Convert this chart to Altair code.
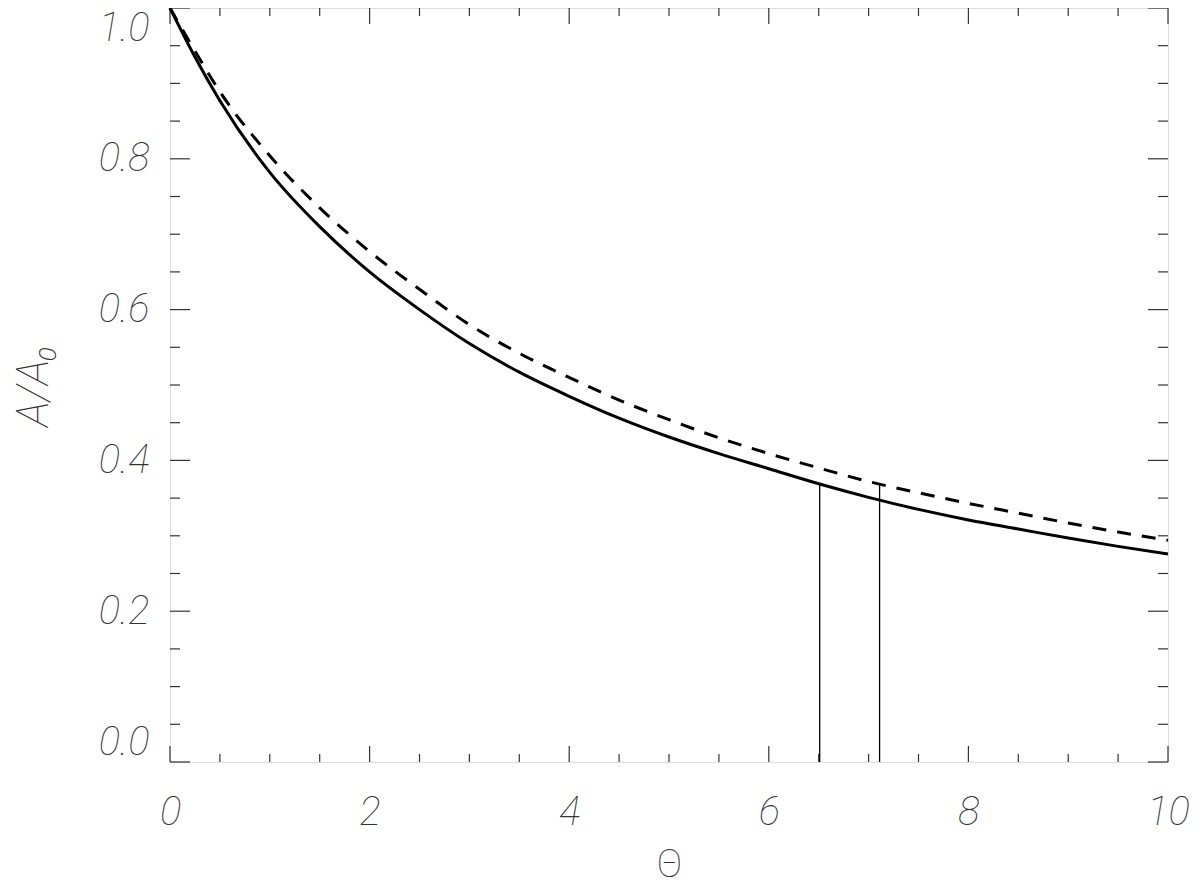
import altair as alt
import pandas as pd

# Data
theta = [0, 0.25, 0.5, 1, 1.5, 2, 2.5, 3, 3.5, 4, 4.5, 5, 5.5, 6, 6.5, 7, 7.5, 8, 8.5, 9, 9.5, 10]
solid_vals = [1.0, 0.935, 0.877, 0.782, 0.710, 0.650, 0.600, 0.555, 0.517, 0.485, 0.456, 0.431,
              0.409, 0.389, 0.369, 0.351, 0.335, 0.321, 0.309, 0.297, 0.286, 0.276]
dashed_vals = [1.0, 0.943, 0.889, 0.804, 0.735, 0.677, 0.627, 0.580, 0.542, 0.510, 0.480, 0.454,
               0.430, 0.409, 0.390, 0.372, 0.357, 0.343, 0.330, 0.317, 0.305, 0.294]
vline_theta = [6.51, 7.11]
vline_top = [0.368, 0.368]

x_major = [0, 2, 4, 6, 8, 10]
x_minor = [0.5, 1, 1.5, 2.5, 3, 3.5, 4.5, 5, 5.5, 6.5, 7, 7.5, 8.5, 9, 9.5]
y_major = [0.0, 0.2, 0.4, 0.6, 0.8, 1.0]
y_minor = [0.05, 0.1, 0.15, 0.25, 0.3, 0.35, 0.45, 0.5, 0.55, 0.65, 0.7, 0.75, 0.85, 0.9, 0.95]

W, H = 998, 754
FONT = "Roboto"
TXT = "#333333"
AX = "#333333"

xs = alt.Scale(domain=[0, 10], nice=False, zero=False)
ys = alt.Scale(domain=[0, 1], nice=False, zero=False)

curves = pd.DataFrame({"theta": theta, "solid": solid_vals, "dashed": dashed_vals})

base = alt.Chart(curves)

solid = base.mark_line(color="black", strokeWidth=3, interpolate="monotone").encode(
    x=alt.X("theta:Q", scale=xs,
            axis=alt.Axis(title="Θ", values=x_major, format="d", ticks=False, domain=False,
                          grid=False, labelFontSize=40, labelFont=FONT, labelFontStyle="italic",
                          labelFontWeight=100, labelColor=TXT, labelPadding=30, labelFlush=False,
                          titleFontSize=38, titleFont=FONT, titleFontWeight=100,
                          titleColor=TXT, titleBaseline="alphabetic", titlePadding=44)),
    y=alt.Y("solid:Q", scale=ys,
            axis=alt.Axis(title="A/A₀", values=y_major, format=".1f", ticks=False, domain=False,
                          grid=False, labelFontSize=40, labelFont=FONT, labelFontStyle="italic",
                          labelFontWeight=100, labelColor=TXT, labelPadding=21, labelFlush=True,
                          titleFontSize=44, titleFont=FONT, titleFontStyle="italic",
                          titleFontWeight=100, titleColor=TXT, titlePadding=42)),
)

dashed = base.mark_line(color="black", strokeWidth=3, strokeDash=[14, 11],
                        interpolate="monotone").encode(
    x=alt.X("theta:Q", scale=xs), y=alt.Y("dashed:Q", scale=ys)
)

vl = pd.DataFrame({"theta": vline_theta, "top": vline_top, "bot": [0.0] * len(vline_theta)})
vlines = alt.Chart(vl).mark_rule(color="black", strokeWidth=1.3).encode(
    x=alt.X("theta:Q", scale=xs), y=alt.Y("bot:Q", scale=ys), y2="top:Q"
)


def xticks(vals, length):
    d = pd.DataFrame({"v": vals})
    b = alt.Chart(d).mark_rule(color=AX, strokeWidth=1.2)
    bottom = b.encode(x=alt.X("v:Q", scale=xs), y=alt.value(H), y2=alt.value(H - length))
    top = b.encode(x=alt.X("v:Q", scale=xs), y=alt.value(0), y2=alt.value(length))
    return bottom + top


def yticks(vals, length):
    d = pd.DataFrame({"v": vals})
    b = alt.Chart(d).mark_rule(color=AX, strokeWidth=1.2)
    left = b.encode(y=alt.Y("v:Q", scale=ys), x=alt.value(0), x2=alt.value(length))
    right = b.encode(y=alt.Y("v:Q", scale=ys), x=alt.value(W), x2=alt.value(W - length))
    return left + right


chart = alt.layer(
    xticks(x_major, 16), xticks(x_minor, 8), yticks(y_major, 20), yticks(y_minor, 10),
    vlines, dashed, solid,
).properties(
    width=W, height=H,
    autosize=alt.AutoSizeParams(type="none"),
    padding={"left": 162, "top": 0, "right": 24, "bottom": 117},
).configure_view(
    stroke=AX, strokeWidth=1.3
).configure(background="white")

chart.save("out.html", embed_options={"renderer": "svg", "actions": False})
